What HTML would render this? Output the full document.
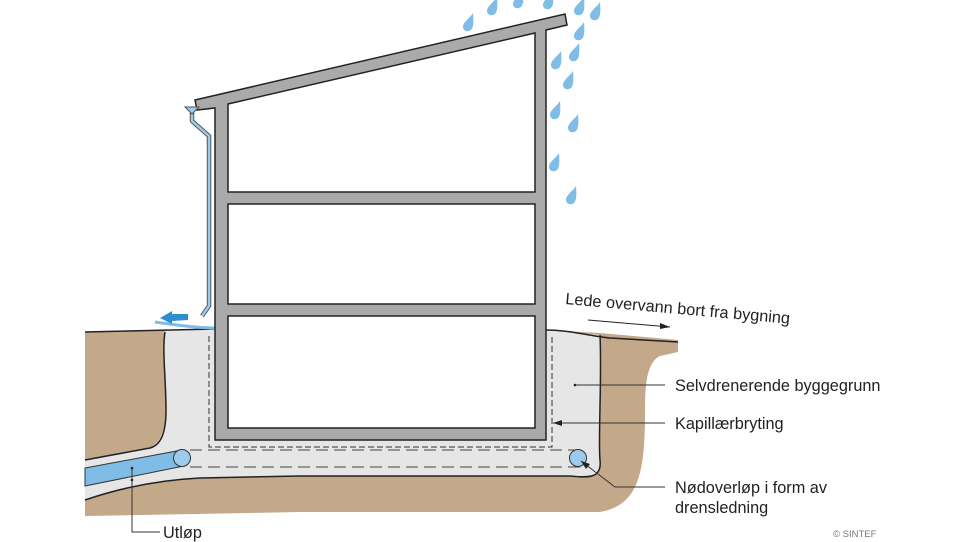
<!DOCTYPE html>
<html><head><meta charset="utf-8"><style>
html,body{margin:0;padding:0;background:#fff;}
svg{display:block;}
text{font-family:"Liberation Sans",sans-serif;fill:#222;}
</style></head><body>
<svg width="960" height="542" viewBox="0 0 960 542" xmlns="http://www.w3.org/2000/svg">
<defs>
<path id="drop" d="M5,-9 C2,-4 -5,0 -5,5 C-5,8 -2,10 1,9 C5,8 6,3 5,-9Z" fill="#7fbde6"/>
</defs>
<!-- soil -->
<path d="M85,332 L165,330 L215,330 L215,445 L546,445 L546,330 L600,333 L678,340 L678,352 L660,356 C648,362 645,380 645,410 C645,470 640,505 600,512 L300,512 L85,516 Z" fill="#c3a88a"/>
<!-- gravel -->
<path d="M165,330 L215,330 L546,330 L600,335 C602,380 598,440 600,460 C602,478 590,478 570,476 L300,476 L200,478 C150,482 110,490 85,500 L85,460 L150,448 C162,440 166,430 166,400 C166,370 162,345 165,330 Z" fill="#e6e6e6"/>
<path d="M165,332 C162,350 166,380 166,410 C166,435 160,445 150,448 L85,460" fill="none" stroke="#222" stroke-width="1.5"/>
<path d="M85,500 C120,488 160,480 200,478 L300,476 L570,476 C590,478 602,478 600,460 C598,440 602,380 600,335" fill="none" stroke="#222" stroke-width="1.5"/>
<path d="M85,332 L215,329" stroke="#222" stroke-width="1.5"/>
<path d="M546,330 C570,330 590,336 610,338 L678,342" fill="none" stroke="#222" stroke-width="1.5"/>
<path d="M155,322 C175,325 200,328 215,328" stroke="#7fbde6" stroke-width="3" fill="none"/>
<!-- dashed capillary -->
<path d="M209,336 L209,447 L552,447 L552,336" fill="none" stroke="#333" stroke-width="1" stroke-dasharray="6,3"/>
<path d="M190,450 L580,450 M190,467 L580,467" stroke="#444" stroke-width="1" stroke-dasharray="12,6"/>
<!-- pipe -->
<path d="M85,468 L182,450 L184,466 L85,486 Z" fill="#7fbde6" stroke="#333" stroke-width="1"/>
<circle cx="182" cy="458" r="8.5" fill="#9ccbed" stroke="#333" stroke-width="1"/>
<circle cx="578" cy="458" r="8.5" fill="#9ccbed" stroke="#333" stroke-width="1"/>
<!-- building -->
<path d="M195,100 L565,14 L567,25 L546,30 L546,440 L215,440 L215,108 L197,110 Z" fill="#aaaaaa" stroke="#222" stroke-width="1.5"/>
<path d="M228,104 L535,33 L535,192 L228,192 Z" fill="#fff" stroke="#222" stroke-width="1.5"/>
<rect x="228" y="204" width="307" height="100" fill="#fff" stroke="#222" stroke-width="1.5"/>
<rect x="228" y="316" width="307" height="112" fill="#fff" stroke="#222" stroke-width="1.5"/>
<!-- downpipe -->
<path d="M192,112 L192,121 L209,136 L209,306 L202,316" fill="none" stroke="#555" stroke-width="4.5" stroke-linejoin="round"/>
<path d="M192,112 L192,121 L209,136 L209,306 L202,316" fill="none" stroke="#9ccbed" stroke-width="2.5" stroke-linejoin="round"/>
<path d="M185,107 L199,107 L192,114 Z" fill="#9ccbed" stroke="#555" stroke-width="1"/>
<path d="M188,314 L172,314 L172,311 L160,318 L172,324 L172,321 L188,320 Z" fill="#2e8fd0"/>
<!-- rain -->
<g>
<use href="#drop" x="468" y="22"/><use href="#drop" x="492" y="6"/><use href="#drop" x="518" y="-1"/>
<use href="#drop" x="548" y="0"/><use href="#drop" x="579" y="6"/><use href="#drop" x="595" y="11"/>
<use href="#drop" x="579" y="31"/><use href="#drop" x="556" y="60"/><use href="#drop" x="574" y="52"/>
<use href="#drop" x="568" y="80"/><use href="#drop" x="555" y="110"/><use href="#drop" x="573" y="123"/>
<use href="#drop" x="554" y="162"/><use href="#drop" x="571" y="195"/>
</g>
<!-- labels -->
<text x="565" y="304" font-size="16.3" transform="rotate(5 565 304)">Lede overvann bort fra bygning</text>
<path d="M588,320 L670,327" stroke="#222" stroke-width="1"/>
<path d="M670,327 L660,323 L660,329 Z" fill="#222"/>
<line x1="575" y1="385" x2="665" y2="385" stroke="#333" stroke-width="1"/>
<circle cx="575" cy="385" r="1.3" fill="#222"/>
<text x="675" y="391" font-size="16.3">Selvdrenerende byggegrunn</text>
<line x1="553" y1="423" x2="665" y2="423" stroke="#333" stroke-width="1"/>
<path d="M553,423 L562,420 L562,426 Z" fill="#222"/>
<text x="675" y="429" font-size="16.3">Kapillærbryting</text>
<path d="M581,461 L615,487 L665,487" fill="none" stroke="#333" stroke-width="1"/>
<path d="M581,461 L590,464 L586,469 Z" fill="#222"/>
<text x="675" y="493" font-size="16.3">Nødoverløp i form av</text>
<text x="675" y="513" font-size="16.3">drensledning</text>
<path d="M132,468 L132,532 L160,532" fill="none" stroke="#333" stroke-width="1"/>
<circle cx="132" cy="468" r="1.3" fill="#222"/>
<circle cx="132" cy="480" r="1.3" fill="#222"/>
<text x="163" y="538" font-size="16.3">Utløp</text>
<text x="833" y="537" font-size="9.5" style="fill:#777">© SINTEF</text>
</svg>
</body></html>
